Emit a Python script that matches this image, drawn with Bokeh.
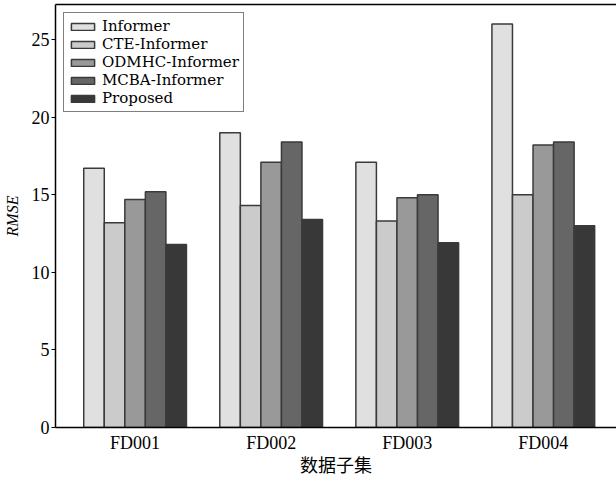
from bokeh.plotting import figure
from bokeh.models import (Range1d, FixedTicker, LinearAxis, Legend, LegendItem,
                          ColumnDataSource)
from bokeh.transform import dodge
from bokeh.embed import file_html
from bokeh.resources import INLINE

categories = ["FD001", "FD002", "FD003", "FD004"]
series = ["Informer", "CTE-Informer", "ODMHC-Informer", "MCBA-Informer", "Proposed"]
informer = [16.7, 19.0, 17.1, 26.0]
cte_informer = [13.2, 14.3, 13.3, 15.0]
odmhc_informer = [14.7, 17.1, 14.8, 18.2]
mcba_informer = [15.2, 18.4, 15.0, 18.4]
proposed = [11.8, 13.4, 11.9, 13.0]
colors = ["#e0e0e0", "#cbcbcb", "#999999", "#666666", "#383838"]
y_ticks = [0, 5, 10, 15, 20, 25]

values = [informer, cte_informer, odmhc_informer, mcba_informer, proposed]
xpos = list(range(1, len(categories) + 1))
data = {"x": xpos}
for s, v in zip(series, values):
    data[s] = v
source = ColumnDataSource(data)

TICK_FONT = "Liberation Serif"

p = figure(width=616, height=479, output_backend="svg", toolbar_location=None,
           x_range=Range1d(0.415, 4.538), y_range=Range1d(0, 27.26),
           min_border_left=0, min_border_right=0, min_border_top=4, min_border_bottom=0,
           outline_line_color=None, background_fill_color="white")
p.xgrid.visible = False
p.ygrid.visible = False

bw = 0.151
items = []
for i, (s, c) in enumerate(zip(series, colors)):
    off = (i - 2) * bw
    r = p.vbar(x=dodge("x", off, range=p.x_range), top=s, width=bw, source=source,
               fill_color=c, line_color="#3a3a3a", line_width=1.5)
    items.append(LegendItem(label=s, renderers=[r]))

# x axis
xa = p.xaxis[0]
xa.ticker = FixedTicker(ticks=xpos)
xa.major_label_overrides = {x: c for x, c in zip(xpos, categories)}
xa.major_tick_out = 0
xa.major_tick_in = 0
xa.minor_tick_out = 0
xa.minor_tick_in = 0
xa.axis_line_width = 1.5
xa.axis_line_color = "black"
xa.major_label_text_font = TICK_FONT
xa.major_label_text_font_size = "18px"
xa.major_label_text_color = "black"
xa.major_label_standoff = 5
xa.axis_label = "数据子集"
xa.axis_label_text_font = "Noto Sans CJK SC"
xa.axis_label_text_font_size = "18px"
xa.axis_label_text_font_style = "normal"
xa.axis_label_text_color = "black"
xa.axis_label_standoff = -5

# y axis
ya = p.yaxis[0]
ya.ticker = FixedTicker(ticks=y_ticks)
ya.major_tick_out = 4
ya.major_tick_in = 0
ya.minor_tick_out = 0
ya.minor_tick_in = 0
ya.axis_line_width = 1.5
ya.axis_line_color = "black"
ya.major_tick_line_color = "black"
ya.major_label_text_font = TICK_FONT
ya.major_label_text_font_size = "18px"
ya.major_label_text_color = "black"
ya.major_label_standoff = 2
ya.axis_label = "RMSE"
ya.axis_label_text_font = TICK_FONT
ya.axis_label_text_font_size = "16px"
ya.axis_label_text_font_style = "italic"
ya.axis_label_text_color = "black"
ya.axis_label_standoff = 8

# top border line
top = LinearAxis(ticker=FixedTicker(ticks=[]), major_tick_out=0, major_tick_in=0,
                 minor_tick_out=0, minor_tick_in=0, major_label_standoff=0,
                 major_label_text_font_size="0px", axis_line_width=1.5,
                 axis_line_color="black")
p.add_layout(top, "above")

legend = Legend(items=items, location="top_left", margin=8,
                label_text_font="DejaVu Serif", label_text_font_size="15px",
                label_text_color="black", glyph_width=29, glyph_height=9,
                label_height=17, label_standoff=5, spacing=0, padding=4,
                border_line_color="black", border_line_width=1.2,
                background_fill_color="white", background_fill_alpha=1.0)
p.add_layout(legend, "center")

open("out.html", "w").write(file_html(p, INLINE))
